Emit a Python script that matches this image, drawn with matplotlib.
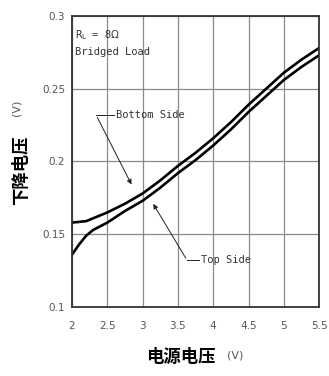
import matplotlib
matplotlib.use('Agg')
import matplotlib.pyplot as plt

supply_v = [2.0, 2.1, 2.2, 2.3, 2.5, 2.75, 3.0, 3.25, 3.5, 3.75, 4.0, 4.25, 4.5, 4.75, 5.0, 5.25, 5.5]
bottom_side = [0.158, 0.1585, 0.159, 0.161, 0.165, 0.171, 0.178, 0.187, 0.197, 0.206, 0.216, 0.227, 0.239, 0.250, 0.261, 0.270, 0.278]
top_side = [0.136, 0.143, 0.149, 0.153, 0.158, 0.166, 0.173, 0.182, 0.192, 0.201, 0.211, 0.222, 0.234, 0.245, 0.256, 0.265, 0.273]

x_ticks = [2, 2.5, 3, 3.5, 4, 4.5, 5, 5.5]
x_tick_labels = ['2', '2.5', '3', '3.5', '4', '4.5', '5', '5.5']
y_ticks = [0.1, 0.15, 0.2, 0.25, 0.3]
y_tick_labels = ['0.1', '0.15', '0.2', '0.25', '0.3']

cjk = ['Noto Sans CJK SC', 'DejaVu Sans']
note_font = dict(family='DejaVu Sans Mono', fontsize=7.5, color='#333333', va='center')

fig = plt.figure(figsize=(3.29, 3.76), dpi=100, facecolor='white')
ax = fig.add_axes([0.219, 0.1835, 0.751, 0.774])

ax.plot(supply_v, bottom_side, color='black', lw=1.9)
ax.plot(supply_v, top_side, color='black', lw=1.9)

ax.set_xlim(2, 5.5)
ax.set_ylim(0.1, 0.3)
ax.set_xticks(x_ticks)
ax.set_xticklabels(x_tick_labels)
ax.set_yticks(y_ticks)
ax.set_yticklabels(y_tick_labels)
ax.tick_params(length=0, labelsize=7.5, labelcolor='#555555')
ax.tick_params(axis='x', pad=10)
ax.tick_params(axis='y', pad=5)
ax.grid(True, color='#8a8a8a', lw=0.9)
for s in ax.spines.values():
    s.set_color('#333333')
    s.set_linewidth(1.3)

# notes inside the plot
ax.text(2.04, 0.287, r'R$_{\rm L}$ = 8$\Omega$', **note_font)
ax.text(2.04, 0.275, 'Bridged Load', **note_font)

# leader arrows
arr = dict(arrowstyle='-|>', color='#222222', lw=0.7, mutation_scale=7)
ax.annotate('', xy=(2.86, 0.1825), xytext=(2.34, 0.232), arrowprops=arr)
ax.plot([2.34, 2.6], [0.232, 0.232], color='#222222', lw=0.7)
ax.text(2.62, 0.232, 'Bottom Side', **note_font)
ax.annotate('', xy=(3.13, 0.1725), xytext=(3.63, 0.132), arrowprops=arr)
ax.plot([3.63, 3.8], [0.132, 0.132], color='#222222', lw=0.7)
ax.text(3.82, 0.132, 'Top Side', **note_font)

# axis titles
fig.text(181 / 329, 1 - 357 / 376, '电源电压', family=cjk, fontsize=12.5,
         fontweight='bold', ha='center', va='center')
fig.text(235 / 329, 1 - 356 / 376, '(V)', fontsize=8, color='#555555',
         ha='center', va='center')
fig.text(21 / 329, 1 - 170 / 376, '下降电压', family=cjk, fontsize=12.5,
         fontweight='bold', ha='center', va='center', rotation=90)
fig.text(17 / 329, 1 - 108 / 376, '(V)', fontsize=8, color='#555555',
         ha='center', va='center', rotation=90)

fig.savefig('out.png', dpi=100, facecolor='white')
plt.close(fig)
